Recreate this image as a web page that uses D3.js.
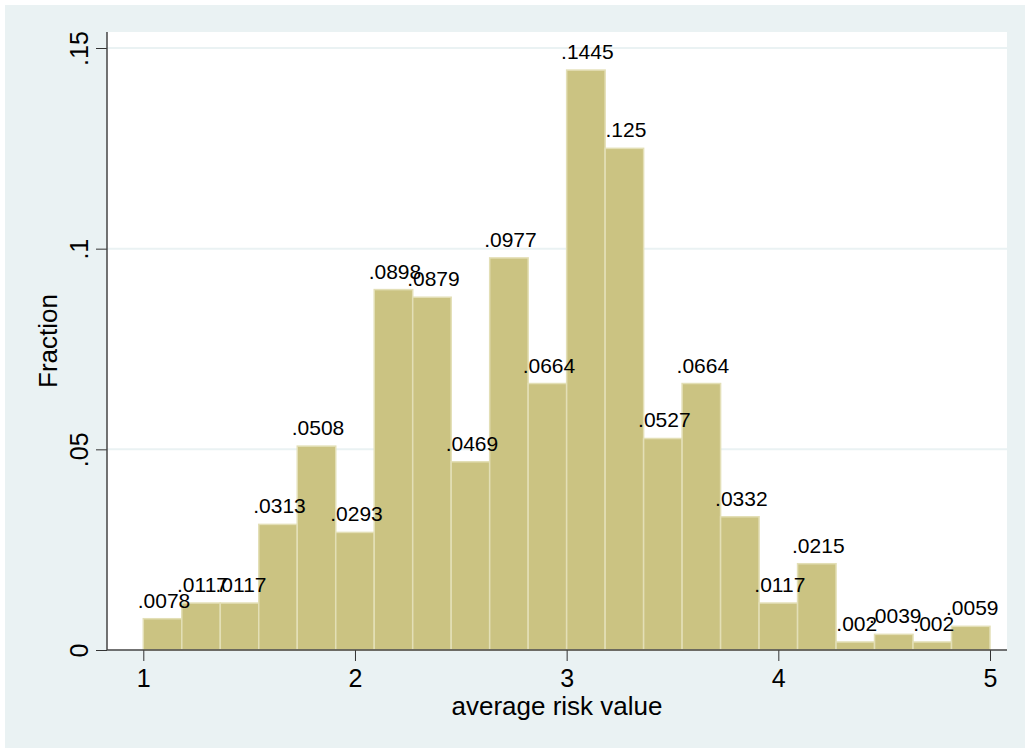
<!DOCTYPE html>
<html>
<head>
<meta charset="utf-8">
<script src="https://cdn.jsdelivr.net/npm/d3@7"></script>
<style>
  body { margin: 0; background: #fff; }
  svg { display: block; font-family: "Liberation Sans", Arial, sans-serif; }
</style>
</head>
<body>
<svg id="chart"></svg>
<script>
// histogram: 22 equal bins from 1 to 5
const binStart = 1;
const binEnd = 5;
const fractions = [0.0078, 0.0117, 0.0117, 0.0313, 0.0508, 0.0293, 0.0898, 0.0879, 0.0469, 0.0977, 0.0664,
  0.1445, 0.125, 0.0527, 0.0664, 0.0332, 0.0117, 0.0215, 0.002, 0.0039, 0.002, 0.0059];
const xTicks = [1, 2, 3, 4, 5];
const yTicks = [0, 0.05, 0.1, 0.15];

const width = 1025;
const height = 749;
const plot = { left: 107, top: 32, right: 1007, bottom: 650 };

const svg = d3.select("#chart").attr("width", width).attr("height", height);

// graph region + plot region
svg.append("rect").attr("x", 5).attr("y", 5).attr("width", width - 5).attr("height", height - 6).attr("fill", "#eaf2f3");
svg.append("rect")
  .attr("x", plot.left).attr("y", plot.top)
  .attr("width", plot.right - plot.left).attr("height", plot.bottom - plot.top)
  .attr("fill", "#fff");

const x = d3.scaleLinear().domain([binStart, binEnd]).range([143.3, 990]);
const y = d3.scaleLinear().domain([0, 0.15]).range([plot.bottom, 48]);

const binW = (binEnd - binStart) / fractions.length;
const bins = fractions.map((v, i) => ({ x0: binStart + i * binW, x1: binStart + (i + 1) * binW, v }));

const fmt = (v) => String(v).replace(/^0\./, ".");

// gridlines
svg.append("g")
  .selectAll("line")
  .data(yTicks.filter((d) => d > 0))
  .enter()
  .append("line")
  .attr("x1", plot.left).attr("x2", plot.right)
  .attr("y1", (d) => y(d)).attr("y2", (d) => y(d))
  .attr("stroke", "#eaf2f3").attr("stroke-width", 2);

// bars
svg.append("g")
  .selectAll("rect")
  .data(bins)
  .enter()
  .append("rect")
  .attr("x", (d) => x(d.x0))
  .attr("y", (d) => y(d.v))
  .attr("width", (d) => x(d.x1) - x(d.x0))
  .attr("height", (d) => y(0) - y(d.v))
  .attr("fill", "#cbc382")
  .attr("stroke", "#e3dfb6")
  .attr("stroke-width", 1.5);

// bar labels (they overlap in places, same as the original)
svg.append("g")
  .selectAll("text")
  .data(bins)
  .enter()
  .append("text")
  .attr("x", (d) => (x(d.x0) + x(d.x1)) / 2 + 1.5)
  .attr("y", (d) => y(d.v) - 11)
  .attr("text-anchor", "middle")
  .style("font-size", "21px")
  .style("fill", "#000")
  .text((d) => fmt(d.v));

// x axis
const xAxis = svg.append("g")
  .attr("transform", `translate(0,${plot.bottom})`)
  .call(d3.axisBottom(x).tickValues(xTicks).tickSize(11).tickPadding(8).tickFormat(d3.format("d")));
xAxis.select(".domain").remove();
xAxis.selectAll("line").attr("stroke", "#333");
xAxis.selectAll("text").style("font-size", "25px").style("fill", "#000").style("font-family", "Liberation Sans, Arial, sans-serif");
svg.append("line")
  .attr("x1", plot.left).attr("x2", plot.right)
  .attr("y1", plot.bottom).attr("y2", plot.bottom)
  .attr("stroke", "#444").attr("stroke-width", 1.5);

// y axis
const yAxis = svg.append("g")
  .attr("transform", `translate(${plot.left},0)`)
  .call(d3.axisLeft(y).tickValues(yTicks).tickSize(11).tickFormat(fmt));
yAxis.select(".domain").remove();
yAxis.selectAll("line").attr("stroke", "#333");
yAxis.selectAll("text")
  .attr("x", null).attr("dy", null)
  .attr("transform", "translate(-19,0) rotate(-90)")
  .attr("text-anchor", "middle")
  .style("font-size", "25px").style("fill", "#000").style("font-family", "Liberation Sans, Arial, sans-serif");
svg.append("line")
  .attr("x1", plot.left).attr("x2", plot.left)
  .attr("y1", plot.top).attr("y2", plot.bottom)
  .attr("stroke", "#444").attr("stroke-width", 1.5);

// axis titles
svg.append("text")
  .attr("x", (plot.left + plot.right) / 2)
  .attr("y", 715)
  .attr("text-anchor", "middle")
  .style("font-size", "26px")
  .text("average risk value");

svg.append("text")
  .attr("transform", `translate(57,${(plot.top + plot.bottom) / 2}) rotate(-90)`)
  .attr("text-anchor", "middle")
  .style("font-size", "26px")
  .text("Fraction");
</script>
</body>
</html>
